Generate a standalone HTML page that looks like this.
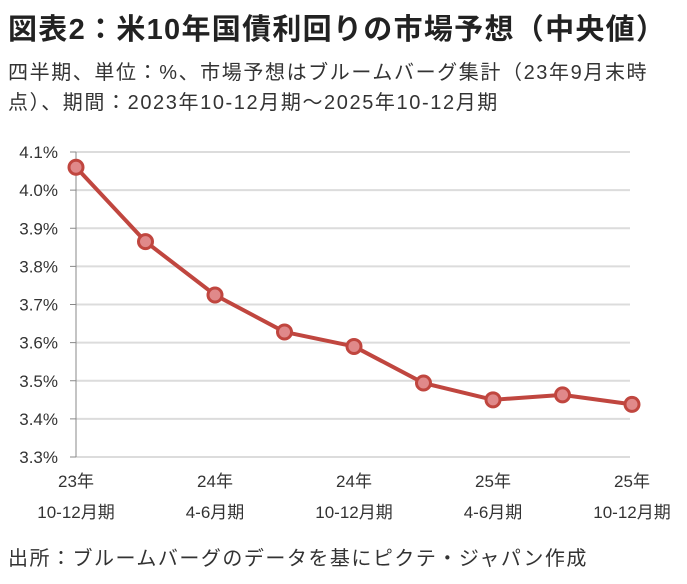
<!DOCTYPE html>
<html><head><meta charset="utf-8"><style>
body{margin:0;width:687px;height:584px;background:#fff;font-family:"Liberation Sans","Noto Sans CJK JP",sans-serif;overflow:hidden;position:relative}
.t{position:absolute;left:8px;white-space:nowrap;color:#222}
</style></head><body>
<div class="t" style="top:6px;font-size:29px;font-weight:bold;letter-spacing:1.3px">図表2：米10年国債利回りの市場予想（中央値）</div>
<div class="t" style="top:58px;font-size:20px;line-height:30px;color:#333;letter-spacing:1.6px">四半期、単位：%、市場予想はブルームバーグ集計（23年9月末時<br>点）、期間：2023年10-12月期～2025年10-12月期</div>
<svg id="c" width="687" height="584" style="position:absolute;left:0;top:0"></svg>
<div class="t" style="top:542px;font-size:20px;color:#333;letter-spacing:1.5px">出所：ブルームバーグのデータを基にピクテ・ジャパン作成</div>
<script>
const categories=["23年Q4","24年Q1","24年Q2","24年Q3","24年Q4","25年Q1","25年Q2","25年Q3","25年Q4"];
const values=[4.06,3.865,3.725,3.628,3.59,3.494,3.45,3.463,3.438];
const yTicks=[3.3,3.4,3.5,3.6,3.7,3.8,3.9,4.0,4.1];
const xLabelIdx=[0,2,4,6,8];
const xLabels1=["23年","24年","24年","25年","25年"];
const xLabels2=["10-12月期","4-6月期","10-12月期","4-6月期","10-12月期"];
const svg=document.getElementById('c');const NS='http://www.w3.org/2000/svg';
const x0=76,x1=632,yTop=152,yBot=457,ymin=3.3,ymax=4.1;
const X=i=>x0+(x1-x0)*i/(categories.length-1);
const Y=v=>yBot-(v-ymin)/(ymax-ymin)*(yBot-yTop);
function mk(t,a){const e=document.createElementNS(NS,t);for(const k in a)e.setAttribute(k,a[k]);svg.appendChild(e);return e;}
yTicks.forEach(v=>{
 const g=mk('line',{x1:x0,x2:630,y1:Y(v),y2:Y(v),stroke:'#dcdcdc','stroke-width':2});
 
 
 const tk=mk('line',{x1:70,x2:x0,y1:Y(v),y2:Y(v),stroke:'#888','stroke-width':1});
 
 
 const t=mk('text',{x:58,y:Y(v)+6,'text-anchor':'end','font-size':17,fill:'#333'});
 t.textContent=v.toFixed(1)+'%';
 
 
});
const ax=mk('line',{x1:x0,x2:x0,y1:yTop,y2:yBot,stroke:'#888','stroke-width':1});


xLabelIdx.forEach((i,k)=>{
 const a=mk('text',{x:X(i),y:487,'text-anchor':'middle','font-size':17,fill:'#333'});a.textContent=xLabels1[k];
 
 
 const b=mk('text',{x:X(i),y:518,'text-anchor':'middle','font-size':17,fill:'#333'});b.textContent=xLabels2[k];
 
 
});
const p=mk('polyline',{points:values.map((v,i)=>X(i)+','+Y(v)).join(' '),fill:'none',stroke:'#c0463f','stroke-width':4,'stroke-linejoin':'round'});


values.forEach((v,i)=>{
 const c=mk('circle',{cx:X(i),cy:Y(v),r:7,fill:'#e0898a',stroke:'#c0463f','stroke-width':3});
 
 
});
</script>
</body></html>
